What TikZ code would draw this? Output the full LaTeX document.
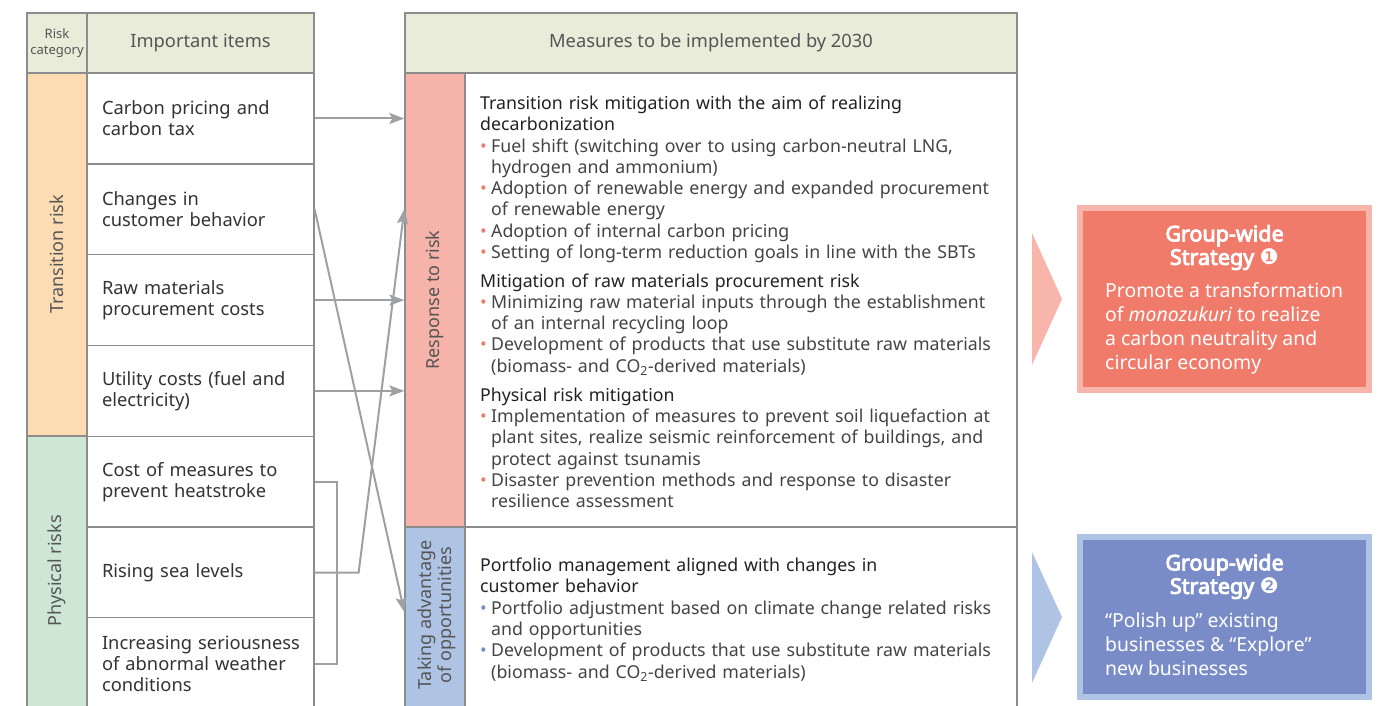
\documentclass[tikz,border=0pt]{standalone}
\usepackage{fontspec}
\setmainfont{Noto Sans}
\newfontfamily\symfont{DejaVu Sans}
\newfontfamily\strongfont{Noto Sans}[FakeBold=4]
\usetikzlibrary{positioning, calc, arrows.meta}

\definecolor{hdrfill}{HTML}{E9ECD9}
\definecolor{gridline}{HTML}{8C8C8C}
\definecolor{transfill}{HTML}{FDDCB4}
\definecolor{physfill}{HTML}{CDE7D4}
\definecolor{respfill}{HTML}{F6B3A9}
\definecolor{oppfill}{HTML}{AFC4E5}
\definecolor{arrowgray}{HTML}{9EA0A3}
\definecolor{redbox}{HTML}{F07B6B}
\definecolor{redrim}{HTML}{F7B5AB}
\definecolor{bluebox}{HTML}{7A8CC7}
\definecolor{bluerim}{HTML}{AFC4E5}
\definecolor{hdrtext}{HTML}{555555}
\definecolor{itemtext}{HTML}{333333}
\definecolor{headtext}{HTML}{222222}
\definecolor{bodytext}{HTML}{444444}

% bullet line with hanging indent
\newcommand{\bitem}[2]{\par\hangindent=11pt\hangafter=1\noindent\makebox[11pt][l]{\textcolor{#1}{•}}#2}
\newcommand{\bhead}[1]{\par\noindent\textcolor{headtext}{#1}}

\begin{document}
\begin{tikzpicture}[x=1pt, y=-1pt,
    cell/.style={draw=gridline, line width=1.3pt, inner sep=0pt},
    hdr/.style={cell, fill=hdrfill, minimum height=60pt, text=hdrtext, font=\fontsize{18.3}{21}\selectfont},
    item/.style={cell, fill=white, minimum width=227pt, minimum height=90.8pt, text width=197pt, inner xsep=15pt, align=left, font=\fontsize{18.3}{21}\selectfont, text=itemtext},
    catlabel/.style={rotate=90, text=hdrtext, font=\fontsize{18}{20}\selectfont},
    measures/.style={anchor=north west, inner sep=0pt, text width=540pt, text=bodytext, font=\fontsize{17.75}{21.3}\selectfont},
    arr/.style={draw=arrowgray, line width=2pt, -{Stealth[length=15pt, width=11pt, inset=3pt]}},
    conn/.style={draw=arrowgray, line width=2pt},
    stratbox/.style={line width=6pt, minimum width=289pt},
    strathead/.style={align=center, text=white, font=\fontsize{21.5}{23.5}\strongfont},
    stratbody/.style={anchor=north west, align=left, inner sep=0pt, text=white, font=\fontsize{19.4}{24}\selectfont}
]
\useasboundingbox (0,0) rectangle (1379,706);

% 左表: 表头
\node[hdr, minimum width=60pt, align=center, font=\fontsize{13}{16}\selectfont] (riskhdr) at (57,43) {Risk\\category};
\node[hdr, minimum width=227pt] (itemhdr) at (200.5,43) {Important items};

% 风险类别
\node[cell, fill=transfill, minimum width=60pt, minimum height=363pt] (trans) at (57,254.5) {};
\node[cell, fill=physfill, minimum width=60pt, minimum height=276pt] (phys) at (57,574) {};
\node[catlabel] (translbl) at (trans.center) {Transition risk};
\node[catlabel] (physlbl) at (57,571) {Physical risks};

% 重要事项
\node[item] (carbon) at (200.5,118.5) {Carbon pricing and\\carbon tax};
\node[item] (customer) at (200.5,209.3) {Changes in\\customer behavior};
\node[item] (rawmat) at (200.5,300.1) {Raw materials\\procurement costs};
\node[item] (utility) at (200.5,390.9) {Utility costs (fuel and\\electricity)};
\node[item] (heat) at (200.5,481.7) {Cost of measures to\\prevent heatstroke};
\node[item] (sea) at (200.5,572.5) {Rising sea levels};
\node[item, minimum height=92pt] (weather) at (200.5,663.5) {\mbox{Increasing seriousness}\\of abnormal weather\\conditions};

% 中表
\node[hdr, minimum width=612pt] (meashdr) at (711,43) {Measures to be implemented by 2030};
\node[cell, fill=respfill, minimum width=60pt, minimum height=454pt] (resp) at (435,300) {};
\node[cell, fill=oppfill, minimum width=60pt, minimum height=185pt] (opp) at (435,619.5) {};
\node[cell, fill=white, minimum width=552pt, minimum height=454pt] (upper) at (741,300) {};
\node[cell, fill=white, minimum width=552pt, minimum height=185pt] (lower) at (741,619.5) {};
\node[catlabel] (resplbl) at (resp.center) {Response to risk};
\node[catlabel, align=center] (opplbl) at (437,615) {Taking advantage\\of opportunities};

\node[measures] (uppertext) at (480,88) {%
  \bhead{Transition risk mitigation with the aim of realizing\newline decarbonization}
  \bitem{redbox}{Fuel shift (switching over to using carbon-neutral LNG,\newline hydrogen and ammonium)}
  \bitem{redbox}{Adoption of renewable energy and expanded procurement\newline of renewable energy}
  \bitem{redbox}{Adoption of internal carbon pricing}
  \bitem{redbox}{Setting of long-term reduction goals in line with the SBTs}
  \par\vspace{7.2pt}
  \bhead{Mitigation of raw materials procurement risk}
  \bitem{redbox}{Minimizing raw material inputs through the establishment\newline of an internal recycling loop}
  \bitem{redbox}{Development of products that use substitute raw materials\newline (biomass- and CO\textsubscript{2}-derived materials)}
  \par\vspace{7.7pt}
  \bhead{Physical risk mitigation}
  \bitem{redbox}{Implementation of measures to prevent soil liquefaction at\newline plant sites, realize seismic reinforcement of buildings, and\newline protect against tsunamis}
  \bitem{redbox}{Disaster prevention methods and response to disaster\newline resilience assessment}\par};

\node[measures] (lowertext) at (480,550) {%
  \bhead{Portfolio management aligned with changes in\newline customer behavior}
  \bitem{bluebox}{Portfolio adjustment based on climate change related risks\newline and opportunities}
  \bitem{bluebox}{Development of products that use substitute raw materials\newline (biomass- and CO\textsubscript{2}-derived materials)}\par};

% 连接箭头
\coordinate (resptip) at ($(resp.north west)!0.3!(resp.south west)$);
\coordinate (opptip) at ($(opp.north west)!0.46!(opp.south west)$);
\coordinate (seajoin) at ($(sea.east)+(44,0)$);
\coordinate (bracket) at ($(heat.east)+(22,0)$);
\draw[arr] (carbon.east) -- (carbon.east -| resp.west);
\draw[arr] (rawmat.east) -- (rawmat.east -| resp.west);
\draw[arr] (utility.east) -- (utility.east -| resp.west);
\draw[arr] (customer.east) -- (opptip);
\draw[conn] (heat.east) -- (bracket) -- (bracket |- weather.east) -- (weather.east);
\draw[arr] (sea.east) -- (seajoin) -- (resptip);

% 集团战略
\fill[redrim] (1032,233) -- (1062,299) -- (1032,365) -- cycle;
\node[stratbox, fill=redbox, draw=redrim, minimum height=182pt] (strat1) at (1224.5,299) {};
\node[strathead] (strat1head) at (1224.5,247.5) {Group-wide\\Strategy {\symfont ❶}};
\node[stratbody] (strat1body) at (1105,282) {Promote a transformation\\of \emph{monozukuri} to realize\\a carbon neutrality and\\circular economy};

\fill[bluerim] (1032,552) -- (1062,617) -- (1032,683) -- cycle;
\node[stratbox, fill=bluebox, draw=bluerim, minimum height=160pt] (strat2) at (1224.5,617) {};
\node[strathead] (strat2head) at (1224.5,576.5) {Group-wide\\Strategy {\symfont ❷}};
\node[stratbody] (strat2body) at (1105,613) {“Polish up” existing\\businesses \& “Explore”\\new businesses};

\end{tikzpicture}
\end{document}
